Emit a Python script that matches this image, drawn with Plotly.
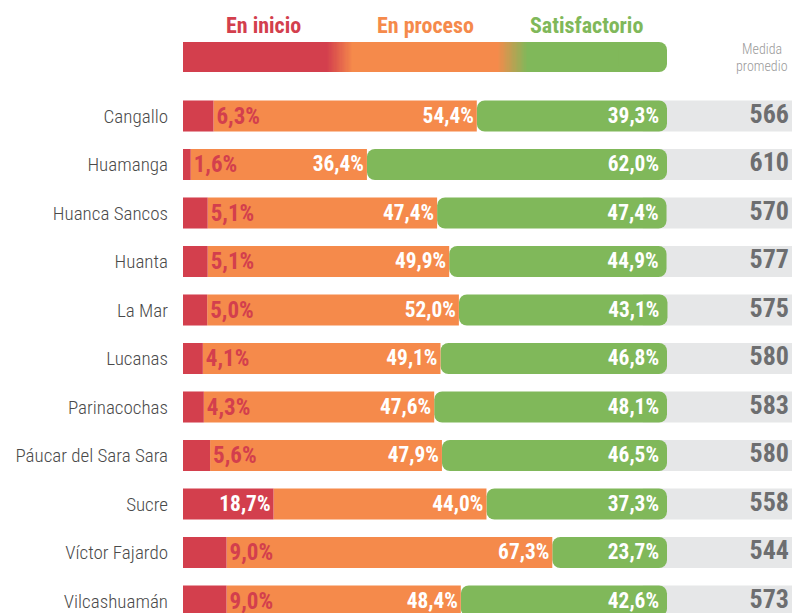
import numpy as np
import plotly.graph_objects as go

categorias = ["Cangallo", "Huamanga", "Huanca Sancos", "Huanta", "La Mar", "Lucanas",
              "Parinacochas", "Páucar del Sara Sara", "Sucre", "Víctor Fajardo", "Vilcashuamán"]
en_inicio = [6.3, 1.6, 5.1, 5.1, 5.0, 4.1, 4.3, 5.6, 18.7, 9.0, 9.0]
en_proceso = [54.4, 36.4, 47.4, 49.9, 52.0, 49.1, 47.6, 47.9, 44.0, 67.3, 48.4]
satisfactorio = [39.3, 62.0, 47.4, 44.9, 43.1, 46.8, 48.1, 46.5, 37.3, 23.7, 42.6]
medida_promedio = [566, 610, 570, 577, 575, 580, 583, 580, 558, 544, 573]

RED = "#D33F4D"
ORANGE = "#F58A4B"
GREEN = "#80B85A"
GRAY_BG = "#E6E7E8"
GRAY_NUM = "#6D6E70"
LABEL = "#4A4A4A"
COND = "Liberation Sans Narrow, Roboto Condensed, DejaVu Sans Condensed, Roboto, Arial"

# page has an 8px body margin, so the figure is drawn 8px smaller and offset
OFF = 8
W, H = 800 - OFF, 613 - OFF
LEFT = 183 - OFF
PX_PER_UNIT = 4.84
XMAX = (W - LEFT) / PX_PER_UNIT


def pct(v):
    return f"{v:.1f}".replace(".", ",") + "%"


def py(page_y):
    return (H - (page_y - OFF)) / H


fig = go.Figure()
bw = 0.64
n = len(categorias)
PSIZE = 23

# gray background band for the mean score
fig.add_trace(go.Bar(y=categorias, x=[XMAX - 95 + 5] * n, base=[95] * n,
                     orientation="h", width=bw, marker=dict(color=GRAY_BG, line_width=0),
                     hoverinfo="skip", showlegend=False))

base_green = [a + b for a, b in zip(en_inicio, en_proceso)]
fig.add_trace(go.Bar(y=categorias, x=satisfactorio, base=base_green, orientation="h", width=bw,
                     marker=dict(color=GREEN, line_width=0, cornerradius=8),
                     text=[pct(v) for v in satisfactorio], textposition="inside",
                     insidetextanchor="end",
                     insidetextfont=dict(color="white", size=PSIZE, family=COND, weight="bold"),
                     showlegend=False))

fig.add_trace(go.Bar(y=categorias, x=en_proceso, base=en_inicio, orientation="h", width=bw,
                     marker=dict(color=ORANGE, line_width=0),
                     text=[pct(v) for v in en_proceso], textposition="inside",
                     insidetextanchor="end",
                     insidetextfont=dict(color="white", size=PSIZE, family=COND, weight="bold"),
                     showlegend=False))

red_pos = ["inside" if v > 12 else "outside" for v in en_inicio]
fig.add_trace(go.Bar(y=categorias, x=en_inicio, base=[0] * n, orientation="h", width=bw,
                     marker=dict(color=RED, line_width=0),
                     text=[pct(v) for v in en_inicio], textposition=red_pos,
                     insidetextanchor="end", cliponaxis=False,
                     insidetextfont=dict(color="white", size=PSIZE, family=COND, weight="bold"),
                     outsidetextfont=dict(color=RED, size=PSIZE, family=COND, weight="bold"),
                     showlegend=False))

fig.add_trace(go.Scatter(y=categorias, x=[(789 - 183) / PX_PER_UNIT] * n, mode="text",
                         text=[str(v) for v in medida_promedio], textposition="middle left",
                         textfont=dict(color=GRAY_NUM, size=26, family=COND, weight="bold"),
                         hoverinfo="skip", showlegend=False))

# header gradient legend bar
ncols = 380
xc = np.arange(ncols) * 0.25 + 0.125
stops = [(0, RED), (29.75 / 95, RED), (35.1 / 95, ORANGE), (64.9 / 95, ORANGE),
         (71.1 / 95, GREEN), (1, GREEN)]
fig.add_trace(go.Heatmap(z=[list(xc)], x=list(xc), y=[0.5], colorscale=stops, zmin=0, zmax=95,
                         showscale=False, hoverinfo="skip", xaxis="x2", yaxis="y2"))
fig.add_trace(go.Bar(y=[0.5], x=[10], base=[90], orientation="h", width=1,
                     marker=dict(color=GREEN, line_width=0, cornerradius=8),
                     hoverinfo="skip", showlegend=False, xaxis="x2", yaxis="y2"))

top_page = 88
r_top = (top_page - 116) / 48.5
r_bot = (613 - 116) / 48.5

fig.update_layout(
    width=W, height=H, margin=dict(l=LEFT, r=0, t=0, b=0),
    paper_bgcolor="white", plot_bgcolor="white", barmode="overlay",
    xaxis=dict(range=[0, XMAX], visible=False, domain=[0, 1]),
    yaxis=dict(type="category", range=[r_bot, r_top], domain=[0, py(top_page)],
               showgrid=False, zeroline=False, showline=False, ticks="",
               ticklabelstandoff=14,
               tickfont=dict(family=COND, size=19, color=LABEL, weight=300)),
    xaxis2=dict(range=[0, XMAX], visible=False, domain=[0, 1], anchor="y2"),
    yaxis2=dict(range=[0, 1], visible=False, domain=[py(72), py(42)], anchor="x2"),
    font=dict(family=COND),
)

for txt, xpix, col in [("En inicio", 263, RED), ("En proceso", 425, ORANGE), ("Satisfactorio", 586, GREEN)]:
    fig.add_annotation(text=txt, x=(xpix - 183) / PX_PER_UNIT, xref="x", y=py(25), yref="paper",
                       showarrow=False, xanchor="center", yanchor="middle",
                       font=dict(color=col, size=22, family=COND, weight="bold"))

for txt, ypix in [("Medida", 49), ("promedio", 66)]:
    fig.add_annotation(text=txt, x=(762 - 183) / PX_PER_UNIT, xref="x", y=py(ypix), yref="paper",
                       showarrow=False, xanchor="center", yanchor="middle",
                       font=dict(color="#9A9A9A", size=14, family=COND, weight=300))

fig.write_html("out.html")
